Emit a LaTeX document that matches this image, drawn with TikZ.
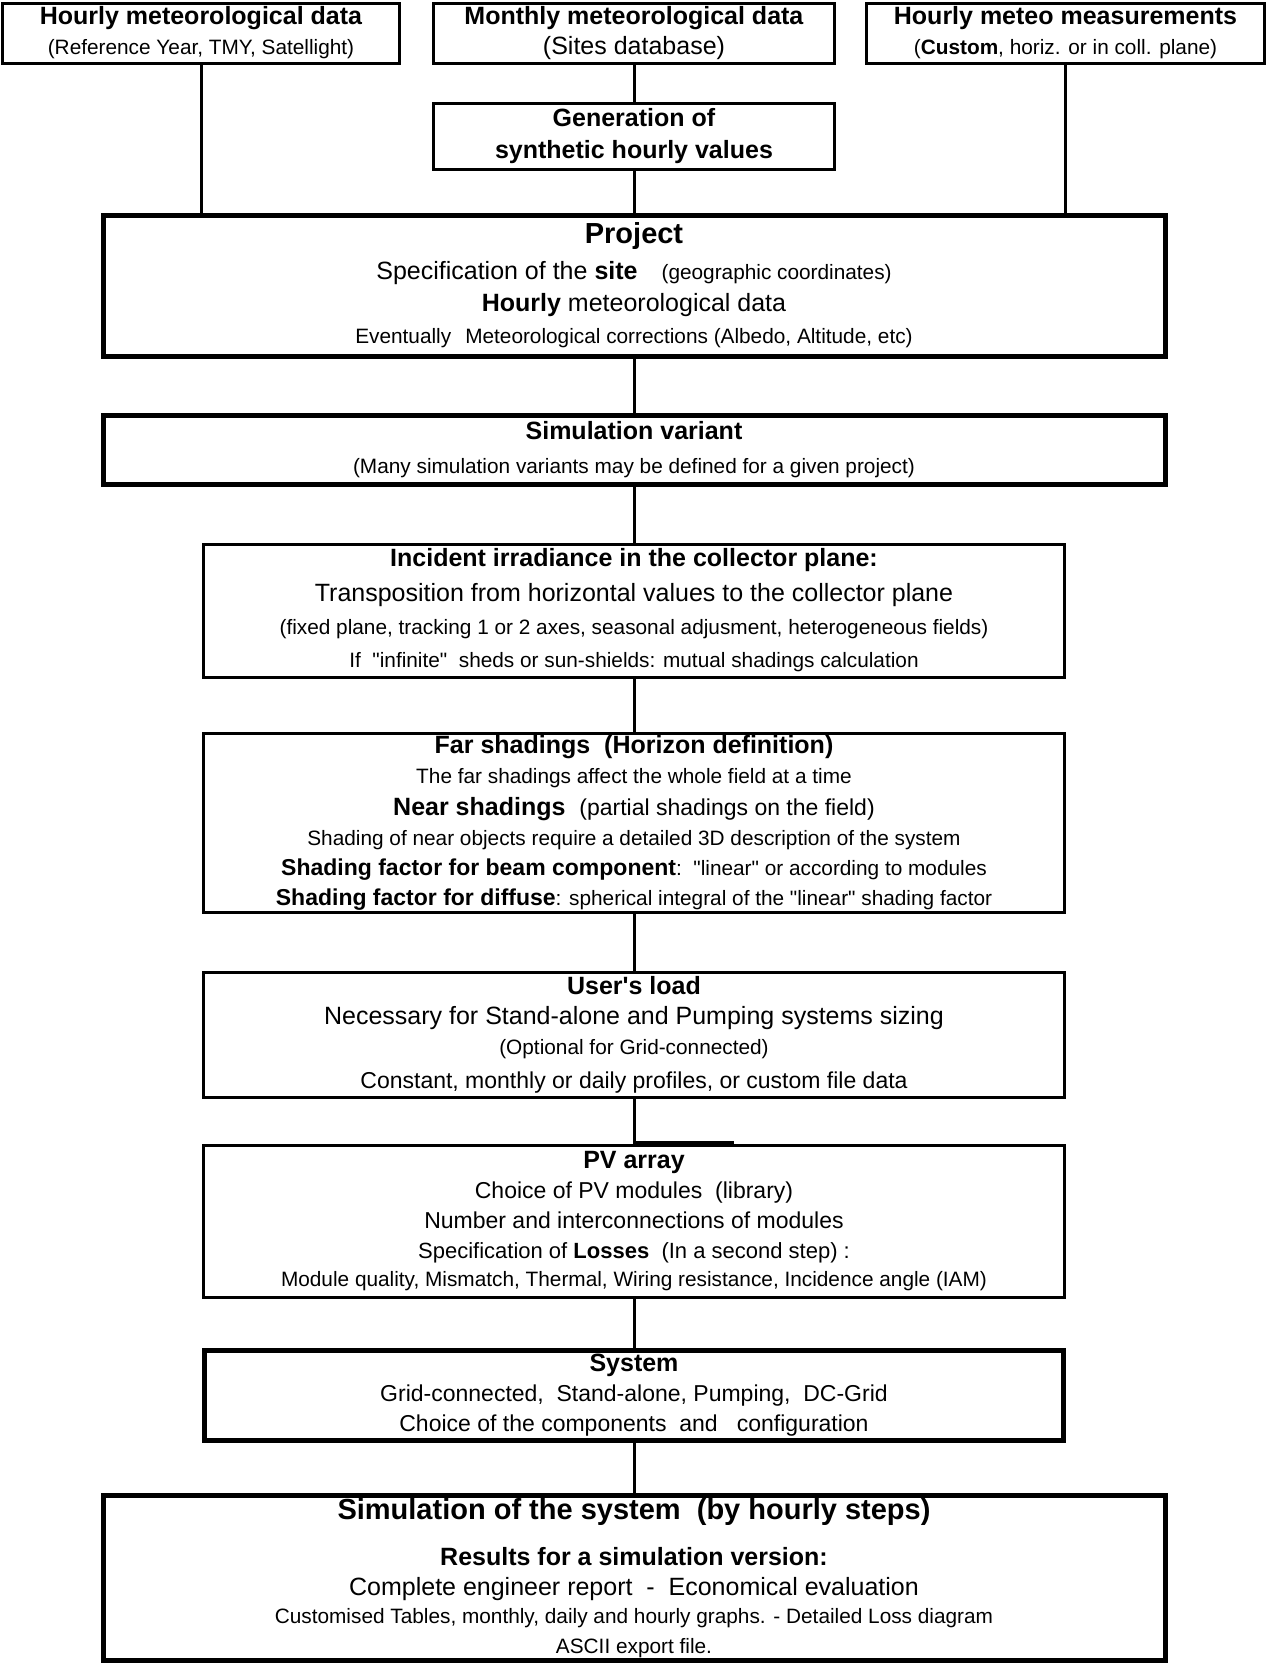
\documentclass[tikz,border=0pt]{standalone}
\usepackage{fontspec}
\setmainfont{Liberation Sans}
\usetikzlibrary{calc}

\newcommand{\fBig}{\fontsize{29}{34}\selectfont\bfseries}
\newcommand{\fMid}{\fontsize{25}{30}\selectfont}
\newcommand{\fSub}{\fontsize{23}{30}\selectfont}
\newcommand{\fSmall}{\fontsize{20.8}{30}\selectfont}
\newcommand{\qq}[1]{\textquotedbl#1\textquotedbl}

\begin{document}
\begin{tikzpicture}[x=1pt, y=-1pt,
    box/.style={draw, line width=3pt, align=center, inner sep=0pt, font=\fMid},
    bigbox/.style={box, line width=5pt},
    link/.style={line width=3pt}]
    \useasboundingbox (0,0) rectangle (1268,1665);

    % Meteo sources
    \node[box, minimum width=397pt, minimum height=60pt] (hourly) at (201,33)
        {\textbf{Hourly meteorological data}\\{\fSmall (Reference Year, TMY, Satellight)}};
    \node[box, minimum width=401pt, minimum height=60pt] (monthly) at (634,33)
        {\textbf{Monthly meteorological data}\\(Sites database)};
    \node[box, minimum width=398pt, minimum height=60pt] (custom) at (1065.5,33)
        {\textbf{Hourly meteo measurements}\\{\fSmall (\textbf{Custom}, horiz. or in coll. plane)}};
    \node[box, minimum width=401pt, minimum height=66pt] (synth) at (634,136)
        {\textbf{Generation of}\\[2pt]\textbf{synthetic hourly values}};

    % Project and variant
    \node[bigbox, minimum width=1062pt, minimum height=141pt] (project) at (634,285.5)
        {{\fBig Project}\\[6pt]
         Specification of the \textbf{site}\hspace{24pt}{\fSmall (geographic coordinates)}\\[2pt]
         \textbf{Hourly} meteorological data\\[2pt]
         {\fSmall Eventually\hspace{14pt}Meteorological corrections (Albedo, Altitude, etc)}};
    \node[bigbox, minimum width=1062pt, minimum height=69pt] (variant) at (634,449.5)
        {\textbf{Simulation variant}\\[4pt]
         {\fSmall (Many simulation variants may be defined for a given project)}};

    % Irradiance and shadings
    \node[box, minimum width=861pt, minimum height=133pt] (incident) at (634,610.5)
        {\textbf{Incident irradiance in the collector plane:}\\[5pt]
         Transposition from horizontal values to the collector plane\\[3pt]
         {\fSmall (fixed plane, tracking 1 or 2 axes, seasonal adjusment, heterogeneous fields)}\\[3pt]
         {\fSmall If\ \ \qq{infinite}\ \ sheds or sun-shields: mutual shadings calculation}};
    \node[box, minimum width=861pt, minimum height=179pt] (far) at (634,822.5)
        {\textbf{Far shadings\ \ (Horizon definition)}\\
         {\fSmall The far shadings affect the whole field at a time}\\[2pt]
         \textbf{Near shadings}\ \ {\fSub (partial shadings on the field)}\\
         {\fSmall Shading of near objects require a detailed 3D description of the system}\\
         {\fSub\textbf{Shading factor for beam component}}{\fSmall:\ \ \qq{linear} or according to modules}\\
         {\fSub\textbf{Shading factor for diffuse}}{\fSmall: spherical integral of the \qq{linear} shading factor}};

    % Load, array, system
    \node[box, minimum width=861pt, minimum height=125pt] (load) at (634,1034.5)
        {\textbf{User\textquotesingle s load}\\
         Necessary for Stand-alone and Pumping systems sizing\\
         {\fSmall (Optional for Grid-connected)}\\[4pt]
         {\fSub Constant, monthly or daily profiles, or custom file data}};
    \node[box, minimum width=861pt, minimum height=152pt] (pv) at (634,1221)
        {\textbf{PV array}\\
         {\fSub Choice of PV modules\ \ (library)}\\
         {\fSub Number and interconnections of modules}\\
         {\fontsize{22}{30}\selectfont Specification of \textbf{Losses}\ \ (In a second step) :}\\[-2pt]
         {\fSmall Module quality, Mismatch, Thermal, Wiring resistance, Incidence angle (IAM)}};
    \node[bigbox, minimum width=859pt, minimum height=90pt] (system) at (634,1395)
        {\textbf{System}\\
         {\fSub Grid-connected,\ \ Stand-alone, Pumping,\ \ DC-Grid}\\
         {\fSub Choice of the components\ \ and\ \ \ configuration}};

    % Simulation
    \node[bigbox, minimum width=1062pt, minimum height=165pt] (results) at (634,1578)
        {{\fBig Simulation of the system\ \ (by hourly steps)}\\[16pt]
         \textbf{Results for a simulation version:}\\
         Complete engineer report\ \ -\ \ Economical evaluation\\[-2pt]
         {\fSmall Customised Tables, monthly, daily and hourly graphs. - Detailed Loss diagram}\\
         {\fSmall ASCII export file.}};

    % Links
    \draw[link] (hourly.south) -- (hourly.south |- project.north);
    \draw[link] (monthly) -- (synth);
    \draw[link] (synth) -- (project);
    \draw[link] (custom.south) -- (custom.south |- project.north);
    \foreach \a/\b in {project/variant, variant/incident, incident/far, far/load,
                       load/pv, pv/system, system/results}
        \draw[link] (\a) -- (\b);
    \draw[line width=5pt] (pv.north) -- ++(100,0);
\end{tikzpicture}
\end{document}
